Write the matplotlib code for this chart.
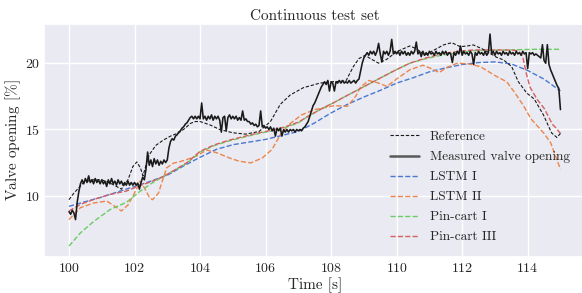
import numpy as np
import matplotlib
matplotlib.use("Agg")
import matplotlib.pyplot as plt
import seaborn as sns

# ---------------- data ----------------
# Measured valve opening, sampled every 0.05 s from 100 s to 115 s
meas_t = np.linspace(100.0, 115.0, 301)
meas_v = [
    # 100.00 - 100.95
    8.8, 8.6, 8.9, 8.7, 8.2, 9.5, 10.3, 10.9, 11.2, 10.9, 11.3, 11.0, 11.5, 11.0, 11.2, 10.9, 11.3, 11.0, 11.2, 10.9,
    # 101.00 - 101.95
    11.2, 10.9, 11.1, 10.7, 11.2, 10.9, 11.3, 10.9, 11.1, 10.8, 11.2, 10.9, 11.1, 10.8, 11.0, 10.8, 11.1, 10.8, 11.0, 10.8,
    # 102.00 - 102.95
    11.0, 10.8, 10.95, 10.5, 11.0, 11.4, 11.2, 12.0, 13.3, 12.3, 12.7, 12.2, 12.8, 12.4, 12.7, 12.3, 12.6, 12.4, 12.7, 12.5,
    # 103.00 - 103.95
    12.7, 13.6, 14.1, 14.3, 14.2, 14.5, 14.6, 14.8, 14.9, 15.1, 15.2, 15.4, 15.5, 15.7, 15.9, 16.0, 15.8, 16.0, 15.8, 16.0,
    # 104.00 - 104.95
    15.8, 17.0, 15.8, 16.0, 15.7, 16.0, 15.8, 16.1, 15.7, 16.0, 15.8, 16.0, 15.7, 14.8, 15.9, 16.0, 14.9, 15.9, 16.1, 15.8,
    # 105.00 - 105.95
    16.0, 15.8, 16.0, 15.7, 15.9, 15.7, 16.4, 15.7, 15.8, 15.6, 15.6, 15.4, 15.5, 15.3, 15.4, 15.2, 15.3, 16.4, 15.2, 15.3,
    # 106.00 - 106.95
    15.1, 15.2, 15.0, 15.2, 14.9, 15.1, 14.5, 15.1, 14.9, 15.1, 14.5, 15.0, 14.8, 15.0, 14.8, 15.0, 14.9, 15.0, 14.8, 15.0,
    # 107.00 - 107.95
    14.9, 15.0, 14.9, 15.1, 15.2, 15.4, 15.6, 16.0, 16.4, 16.8, 17.0, 17.3, 17.6, 17.9, 18.2, 18.4, 18.6, 18.4, 18.7, 17.9,
    # 108.00 - 108.95
    18.6, 18.5, 17.9, 18.6, 18.5, 18.7, 18.5, 18.7, 18.5, 18.6, 18.5, 18.7, 18.5, 18.6, 18.7, 18.5, 18.7, 18.8, 19.4, 20.0,
    # 109.00 - 109.95
    20.4, 20.6, 20.8, 20.6, 20.9, 20.7, 20.9, 20.6, 20.9, 21.5, 20.7, 20.1, 20.9, 20.7, 20.9, 20.6, 20.9, 21.8, 20.7, 20.9,
    # 110.00 - 110.95
    20.7, 20.9, 20.6, 20.9, 20.7, 20.9, 20.6, 20.8, 20.6, 20.9, 20.7, 20.9, 21.6, 20.7, 20.9, 20.5, 20.9, 20.6, 20.8, 20.6,
    # 111.00 - 111.95
    20.9, 20.7, 20.8, 20.6, 20.9, 20.7, 20.8, 20.6, 20.9, 20.7, 20.9, 20.6, 20.8, 20.7, 20.05, 20.8, 20.6, 20.9, 20.7, 21.3,
    # 112.00 - 112.95
    20.6, 20.9, 20.7, 20.8, 20.6, 20.9, 20.7, 19.9, 20.8, 20.6, 20.9, 20.7, 20.8, 20.6, 20.9, 20.6, 20.8, 22.2, 20.7, 20.9,
    # 113.00 - 113.95
    20.6, 20.9, 20.7, 20.8, 20.6, 20.9, 20.7, 20.8, 20.6, 20.9, 20.7, 20.8, 20.6, 20.9, 20.7, 20.8, 20.6, 20.9, 20.7, 20.8,
    # 114.00 - 114.95
    19.6, 20.8, 20.7, 20.8, 20.6, 20.7, 20.6, 20.5, 20.4, 21.4, 20.2, 20.0, 21.4, 19.9, 19.5, 19.2, 18.9, 18.6, 18.3, 18.1,
    # 115.00
    16.5,
]

ref_t = [100.0, 100.15, 100.3, 100.45, 100.7, 101.0, 101.3, 101.6, 101.8, 101.95, 102.07, 102.18, 102.26,
         102.35, 102.45, 102.65, 102.88, 103.1, 103.35, 103.55, 103.7, 103.85, 104.0, 104.3, 104.6, 105.0,
         105.4, 105.8, 106.15, 106.45, 106.75, 107.15, 107.66, 108.0, 108.45, 108.68, 108.85, 109.04, 109.2,
         109.45, 109.7, 110.0, 110.4, 110.6, 110.86, 111.15, 111.43, 111.68, 111.94, 112.15, 112.34, 112.6,
         112.85, 113.05, 113.26, 113.51, 113.71, 113.97, 114.2, 114.48, 114.73, 114.89, 115.0]
ref_v = [9.7, 10.2, 10.6, 11.0, 11.2, 11.2, 10.9, 10.5, 11.2, 12.2, 12.55, 12.1, 11.5,
         12.3, 13.1, 13.8, 14.2, 14.5, 14.75, 15.1, 15.45, 15.6, 15.6, 15.35, 15.0, 14.75,
         14.65, 14.85, 15.6, 16.9, 17.6, 18.15, 18.5, 18.6, 18.65, 19.75, 20.35, 20.6, 20.35,
         20.0, 20.3, 20.87, 21.3, 21.1, 20.62, 21.0, 21.38, 21.55, 21.25, 21.3, 21.38, 21.1,
         20.75, 20.45, 20.25, 19.75, 18.62, 17.75, 17.3, 16.1, 14.74, 14.4, 14.7]

lstm1_t = [100, 100.5, 101, 101.5, 102, 102.5, 103, 103.5, 104, 104.5, 105, 105.5, 106, 106.5, 107,
           107.5, 108, 108.5, 109, 109.5, 110, 110.5, 111, 111.5, 112, 112.5, 113, 113.5, 114, 114.5, 115]
lstm1_v = [9.2, 9.55, 9.9, 10.3, 10.7, 11.1, 11.55, 12.25, 12.9, 13.5, 13.85, 14.05, 14.25, 14.55, 14.85,
           15.5, 16.25, 16.9, 17.45, 17.95, 18.5, 18.9, 19.35, 19.65, 19.9, 20.05, 20.1, 19.95, 19.45, 18.8, 17.9]

lstm2_t = [100.0, 100.35, 100.75, 101.15, 101.4, 101.6, 101.8, 102.0, 102.17, 102.3, 102.45, 102.55, 102.73,
           102.98, 103.18, 103.5, 103.9, 104.2, 104.5, 104.9, 105.2, 105.55, 105.9, 106.2, 106.45, 106.7,
           107.1, 107.5, 108.1, 108.5, 108.75, 108.9, 109.15, 109.45, 109.7, 110.05, 110.4, 110.8, 111.05,
           111.3, 111.55, 111.85, 112.2, 112.55, 113.05, 113.36, 113.6, 113.87, 114.1, 114.3, 114.5, 114.7,
           114.85, 115.0]
lstm2_v = [8.2, 9.1, 9.45, 9.6, 9.2, 8.85, 9.3, 10.2, 11.1, 10.6, 9.9, 9.7, 10.2,
           12.1, 12.45, 12.65, 13.0, 13.45, 13.25, 12.85, 12.6, 12.48, 12.85, 13.5, 14.6, 15.35,
           16.1, 16.5, 16.8, 16.75, 17.5, 18.2, 18.7, 18.5, 18.25, 18.9, 19.5, 19.85, 19.6,
           19.3, 19.7, 20.0, 19.95, 19.75, 19.0, 18.6, 17.8, 16.8, 15.8, 15.25, 14.7, 14.0,
           13.0, 12.0]

pin1_t = [100.0, 100.35, 100.75, 101.25, 101.75, 102.15, 102.5, 102.88, 103.2, 103.6, 104.0, 104.45, 104.9,
          105.3, 105.8, 106.2, 106.6, 107.0, 107.3, 107.7, 108.1, 108.4, 108.9, 109.4, 109.9, 110.4, 110.9,
          111.4, 111.9, 112.35, 113.35, 114.2, 115.0]
pin1_v = [6.2, 7.2, 8.05, 8.95, 9.5, 10.3, 10.9, 11.45, 11.9, 12.45, 13.3, 13.8, 14.15,
          14.4, 14.7, 14.9, 15.15, 15.5, 16.0, 16.55, 17.05, 17.45, 18.1, 18.75, 19.4, 20.0, 20.35,
          20.62, 20.8, 20.95, 21.0, 21.05, 21.05]

pin3_t = [100.0, 100.35, 100.75, 101.25, 101.75, 102.15, 102.5, 102.88, 103.2, 103.6, 104.0, 104.45, 104.9,
          105.3, 105.8, 106.2, 106.6, 107.0, 107.3, 107.7, 108.1, 108.4, 108.9, 109.4, 109.9, 110.4, 110.9,
          111.4, 111.9, 112.35, 113.35, 113.7, 113.85, 113.95, 114.07, 114.28, 114.5, 114.63, 114.75,
          114.85, 115.0]
pin3_v = [8.85, 9.35, 9.72, 10.1, 10.35, 10.75, 11.05, 11.45, 11.9, 12.5, 13.35, 13.85, 14.2,
          14.45, 14.75, 14.95, 15.2, 15.55, 16.0, 16.55, 17.05, 17.45, 18.1, 18.75, 19.4, 20.0, 20.4,
          20.72, 20.9, 21.0, 21.0, 20.95, 20.5, 19.3, 18.2, 17.3, 16.6, 16.0, 15.4, 15.15, 14.7]

x_ticks = [100, 102, 104, 106, 108, 110, 112, 114]
y_ticks = [10, 15, 20]

# ---------------- style ----------------
sns.set_theme(style="darkgrid", palette="muted")
plt.rcParams["font.family"] = ["cmr10", "DejaVu Serif"]
plt.rcParams["mathtext.fontset"] = "cm"
plt.rcParams["axes.formatter.use_mathtext"] = True
pal = sns.color_palette("muted")

fig = plt.figure(figsize=(5.82, 2.93), dpi=100)
ax = fig.add_axes([0.0763, 0.1239, 0.9289, 0.7942])

ax.plot(ref_t, ref_v, color="k", lw=0.8, ls="--", dashes=(3.0, 1.6), label="Reference", zorder=4)
ax.plot(meas_t, meas_v, color="k", lw=1.15, label="Measured valve opening", zorder=3)
ax.plot(lstm1_t, lstm1_v, color=pal[0], lw=1.0, ls="--", label="LSTM I")
ax.plot(lstm2_t, lstm2_v, color=pal[1], lw=1.0, ls="--", label="LSTM II")
ax.plot(pin1_t, pin1_v, color=pal[2], lw=1.0, ls="--", label="Pin-cart I")
ax.plot(pin3_t, pin3_v, color=pal[3], lw=1.0, ls="--", label="Pin-cart III")

ax.set_xlim(99.25, 115.75)
ax.set_ylim(5.4, 22.96)
ax.set_xticks(x_ticks)
ax.set_yticks(y_ticks)
ax.tick_params(axis="both", length=0, labelsize=10)
ax.tick_params(axis="x", pad=3.5)
ax.tick_params(axis="y", pad=3.2)
ax.set_xlabel("Time [s]", fontsize=11, labelpad=2)
ax.set_ylabel(r"Valve opening [$\%$]", fontsize=11, labelpad=1.5)
ax.set_title("Continuous test set", fontsize=11, pad=3)

leg = ax.legend(loc="upper left", bbox_to_anchor=(0.629, 0.565), frameon=False,
                fontsize=9.6, handlelength=2.2, handletextpad=0.8, labelspacing=0.58,
                borderaxespad=0.0)
h = leg.legend_handles[1]
h.set_color("0.35")
h.set_linewidth(1.8)

fig.savefig("out.png", dpi=100)
